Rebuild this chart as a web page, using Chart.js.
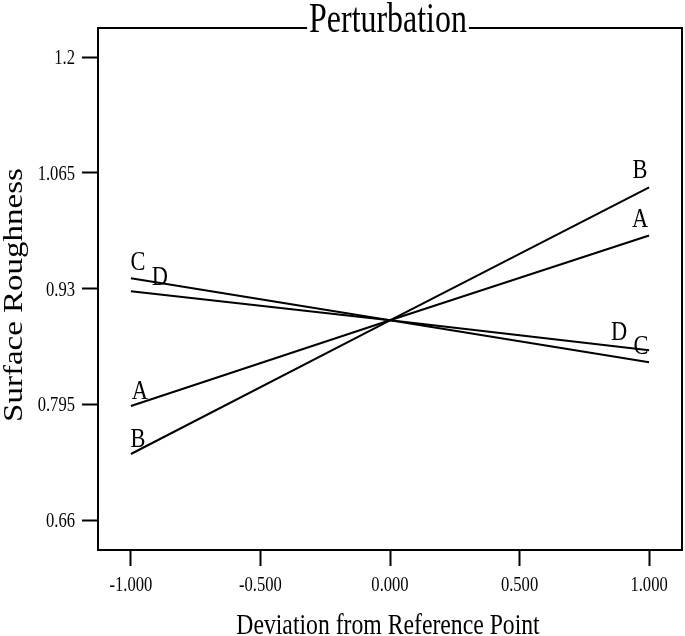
<!DOCTYPE html>
<html>
<head>
<meta charset="utf-8">
<script src="https://cdn.jsdelivr.net/npm/chart.js"></script>
<style>
  html, body { margin: 0; padding: 0; background: #fff; }
  #wrap { width: 685px; height: 636px; position: relative; }
</style>
</head>
<body>
<div id="wrap"><canvas id="chart"></canvas></div>
<script>
// データ
const xPoints = [-1, 0, 1];
const seriesA = [0.793, 0.893, 0.992];
const seriesB = [0.737, 0.893, 1.048];
const seriesC = [0.942, 0.893, 0.844];
const seriesD = [0.927, 0.893, 0.858];
const seriesNames = ['A', 'B', 'C', 'D'];
const xTicks = [-1, -0.5, 0, 0.5, 1];
const yTicks = [0.66, 0.795, 0.93, 1.065, 1.2];
const yTickLabels = ['0.66', '0.795', '0.93', '1.065', '1.2'];

const chartTitle = 'Perturbation';
const xTitle = 'Deviation from Reference Point';
const yTitle = 'Surface Roughness';

// 線端ラベルの配置（end: 0 = 左端, 2 = 右端）
const labelPlacement = [
  { name: 'C', end: 0, dx: 7, dy: -8 },
  { name: 'D', end: 0, dx: 29, dy: -6 },
  { name: 'A', end: 0, dx: 9, dy: -7 },
  { name: 'B', end: 0, dx: 7, dy: -7 },
  { name: 'B', end: 2, dx: -9, dy: -9 },
  { name: 'A', end: 2, dx: -9, dy: -8 },
  { name: 'D', end: 2, dx: -30, dy: -10 },
  { name: 'C', end: 2, dx: -8, dy: -8 }
];

const SERIF = '"Liberation Serif", "Times New Roman", serif';
const allSeries = { A: seriesA, B: seriesB, C: seriesC, D: seriesD };

// 横方向に圧縮した文字を描く
function squeezedText(ctx, text, x, y, size, sx, align) {
  ctx.save();
  ctx.font = `${size}px ${SERIF}`;
  ctx.textAlign = align || 'center';
  ctx.textBaseline = 'alphabetic';
  ctx.translate(x, y);
  ctx.scale(sx, 1);
  ctx.fillText(text, 0, 0);
  ctx.restore();
}

const textPlugin = {
  id: 'textPlugin',
  afterDraw(chart) {
    const { ctx, chartArea: a, scales } = chart;
    const xs = scales.x, ys = scales.y;
    ctx.save();
    ctx.fillStyle = '#000';
    ctx.strokeStyle = '#000';
    ctx.lineWidth = 2;

    // タイトル
    const cx = (a.left + a.right) / 2 - 2;
    ctx.font = `42px ${SERIF}`;
    const tw = ctx.measureText(chartTitle).width * 0.76;
    squeezedText(ctx, chartTitle, cx, a.top + 4, 42, 0.76);

    // 上と右の枠線（タイトル部分は空ける）
    ctx.beginPath();
    ctx.moveTo(a.left, a.top);
    ctx.lineTo(cx - tw / 2 - 2, a.top);
    ctx.moveTo(cx + tw / 2 + 2, a.top);
    ctx.lineTo(a.right, a.top);
    ctx.lineTo(a.right, a.bottom);
    ctx.stroke();

    // 目盛ラベル
    xTicks.forEach(v => {
      squeezedText(ctx, v.toFixed(3), xs.getPixelForValue(v), a.bottom + 41, 21, 0.79);
    });
    yTicks.forEach((v, i) => {
      squeezedText(ctx, yTickLabels[i], a.left - 23, ys.getPixelForValue(v) + 7, 21, 0.79, 'right');
    });

    // 軸タイトル
    squeezedText(ctx, xTitle, cx, a.bottom + 84, 30, 0.79);
    ctx.save();
    ctx.font = `33px ${SERIF}`;
    ctx.textAlign = 'center';
    ctx.textBaseline = 'alphabetic';
    ctx.translate(22, (a.top + a.bottom) / 2 + 6);
    ctx.scale(0.8, 1);
    ctx.rotate(-Math.PI / 2);
    ctx.fillText(yTitle, 0, 0);
    ctx.restore();

    // 線端の文字
    labelPlacement.forEach(p => {
      const px = xs.getPixelForValue(xPoints[p.end]);
      const py = ys.getPixelForValue(allSeries[p.name][p.end]);
      squeezedText(ctx, p.name, px + p.dx, py + p.dy, 28, 0.8);
    });
    ctx.restore();
  }
};

const datasets = seriesNames.map(name => ({
  label: name,
  data: xPoints.map((x, i) => ({ x, y: allSeries[name][i] })),
  borderColor: '#000',
  borderWidth: 2,
  pointRadius: 0,
  tension: 0,
  fill: false
}));

new Chart(document.getElementById('chart'), {
  type: 'line',
  data: { datasets },
  options: {
    responsive: true,
    maintainAspectRatio: false,
    animation: false,
    layout: { padding: { top: 28, right: 3, left: 0, bottom: 0 } },
    plugins: {
      legend: { display: false },
      tooltip: { enabled: false },
      title: { display: false }
    },
    scales: {
      x: {
        type: 'linear',
        min: -1.127,
        max: 1.127,
        afterBuildTicks: (s) => { s.ticks = xTicks.map(v => ({ value: v })); },
        afterFit: (s) => { s.height = 86; },
        ticks: { display: false },
        grid: { drawOnChartArea: false, drawTicks: true, tickLength: 16, tickWidth: 2, tickColor: '#000' },
        border: { display: true, color: '#000', width: 2 }
      },
      y: {
        type: 'linear',
        min: 0.625,
        max: 1.234,
        afterBuildTicks: (s) => { s.ticks = yTicks.map(v => ({ value: v })); },
        afterFit: (s) => { s.width = 98; },
        ticks: { display: false },
        grid: { drawOnChartArea: false, drawTicks: true, tickLength: 16, tickWidth: 2, tickColor: '#000' },
        border: { display: true, color: '#000', width: 2 }
      }
    }
  },
  plugins: [textPlugin]
});
</script>
</body>
</html>
